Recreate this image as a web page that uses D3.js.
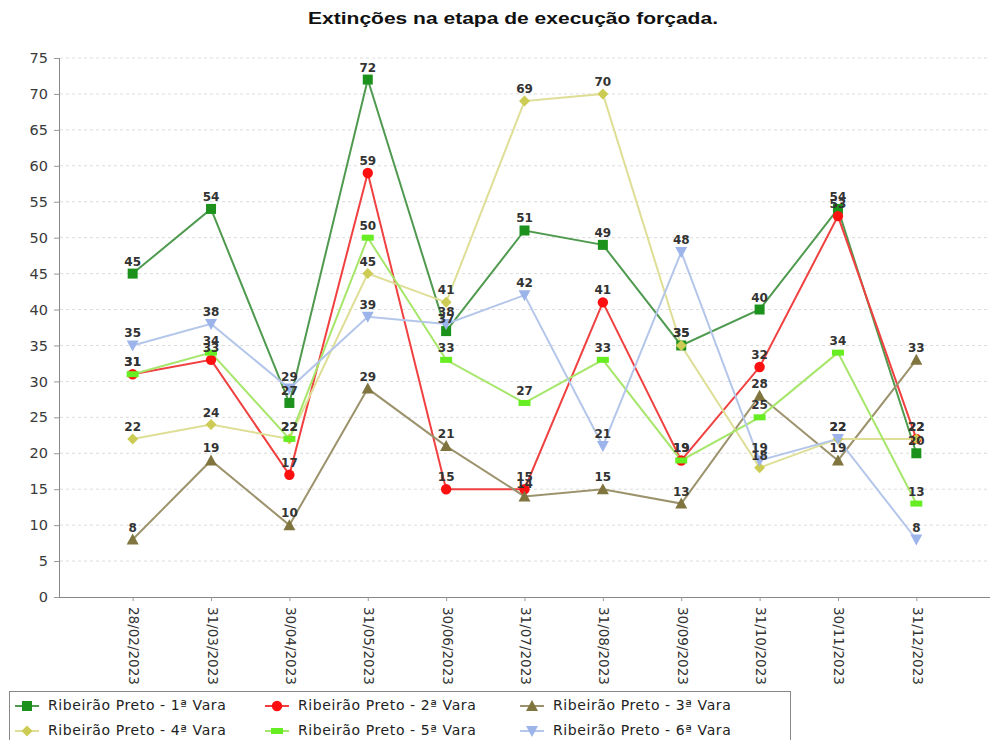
<!DOCTYPE html>
<html><head><meta charset="utf-8">
<script src="https://cdn.jsdelivr.net/npm/d3@7/dist/d3.min.js"></script>
<style>body{margin:0;background:#fff}svg{display:block}</style>
</head><body>
<script>
const categories = ["28/02/2023","31/03/2023","30/04/2023","31/05/2023","30/06/2023","31/07/2023","31/08/2023","30/09/2023","31/10/2023","30/11/2023","31/12/2023"];
const seriesNames = ["Ribeirão Preto - 1ª Vara","Ribeirão Preto - 2ª Vara","Ribeirão Preto - 3ª Vara","Ribeirão Preto - 4ª Vara","Ribeirão Preto - 5ª Vara","Ribeirão Preto - 6ª Vara"];
const vara1 = [45,54,27,72,37,51,49,35,40,54,20];
const vara2 = [31,33,17,59,15,15,41,19,32,53,22];
const vara3 = [8,19,10,29,21,14,15,13,28,19,33];
const vara4 = [22,24,22,45,41,69,70,35,18,22,22];
const vara5 = [31,34,22,50,33,27,33,19,25,34,13];
const vara6 = [35,38,29,39,38,42,21,48,19,22,8];
const yTicks = [0,5,10,15,20,25,30,35,40,45,50,55,60,65,70,75];
const title = "Extinções na etapa de execução forçada.";

const seriesValues = [vara1,vara2,vara3,vara4,vara5,vara6];
const styles = [
  {line:"#4f9a4f", fill:"#1c921c", shape:"square"},
  {line:"#f04040", fill:"#ff1010", shape:"circle"},
  {line:"#9c926c", fill:"#80743f", shape:"tri-up"},
  {line:"#dede96", fill:"#cccc55", shape:"diamond"},
  {line:"#a6e66a", fill:"#66ee22", shape:"bar"},
  {line:"#b4c6ea", fill:"#9db4ea", shape:"tri-down"}
];

const W=993,H=740;
const svg=d3.select("body").append("svg").attr("width",W).attr("height",H);
const x=d3.scalePoint().domain(categories).range([59,990]).padding(0.94);
const y=d3.scaleLinear().domain([0,75]).range([597,58]);

svg.append("text").attr("x",513).attr("y",24).attr("text-anchor","middle")
  .attr("font-family","Liberation Sans, Arial, sans-serif").attr("font-weight","bold")
  .attr("font-size",17).attr("fill","#111")
  .attr("textLength",410).attr("lengthAdjust","spacingAndGlyphs").text(title);

// grid
svg.append("g").selectAll("line").data(yTicks.filter(d=>d>0)).join("line")
  .attr("x1",60).attr("x2",990).attr("y1",d=>y(d)).attr("y2",d=>y(d))
  .attr("stroke","#dcdcdc").attr("stroke-dasharray","3,3").attr("stroke-width",1);

// y axis
const ya=svg.append("g").attr("transform","translate(59,0)")
  .call(d3.axisLeft(y).tickValues(yTicks).tickSize(5).tickPadding(6));
ya.select(".domain").attr("stroke","#888").attr("d","M0.5,597V58");
ya.selectAll(".tick line").attr("stroke","#999");
ya.selectAll("text").attr("font-family","DejaVu Sans, Verdana, sans-serif").attr("font-size",14.5).attr("fill","#3a3a3a");

// x axis
const xa=svg.append("g").attr("transform","translate(0,597)")
  .call(d3.axisBottom(x).tickSize(4).tickSizeOuter(0));
xa.select(".domain").attr("stroke","#888").attr("d","M59,0.5H990");
xa.selectAll(".tick line").attr("stroke","#999");
xa.selectAll("text").attr("font-family","DejaVu Sans, Verdana, sans-serif").attr("font-size",13.5)
  .attr("fill","#333").attr("text-anchor","start").attr("dy",null)
  .attr("transform","translate(0,10) rotate(90)").attr("dominant-baseline","middle").attr("x",0).attr("y",0);

function markerPath(shape){
  switch(shape){
    case "square": return "M-5,-5H5V5H-5Z";
    case "circle": return d3.symbol(d3.symbolCircle,85)();
    case "tri-up": return "M0,-6L6,5H-6Z";
    case "tri-down": return "M0,6L6,-5H-6Z";
    case "diamond": return "M0,-5.5L5.5,0L0,5.5L-5.5,0Z";
    case "bar": return "M-6,-3H6V3H-6Z";
  }
}

const line=d3.line().x((d,i)=>x(categories[i])).y(d=>y(d));
seriesValues.forEach((vals,s)=>{
  const st=styles[s];
  svg.append("path").datum(vals).attr("d",line).attr("fill","none")
    .attr("stroke",st.line).attr("stroke-width",2);
});
seriesValues.forEach((vals,s)=>{
  const st=styles[s];
  svg.append("g").selectAll("path").data(vals).join("path")
    .attr("d",markerPath(st.shape))
    .attr("transform",(d,i)=>`translate(${x(categories[i])},${y(d)})`)
    .attr("fill",st.fill);
});
seriesValues.forEach((vals,s)=>{
  svg.append("g").selectAll("text").data(vals).join("text")
    .attr("x",(d,i)=>x(categories[i])).attr("y",d=>y(d)-8)
    .attr("text-anchor","middle").attr("font-family","DejaVu Sans, Verdana, sans-serif")
    .attr("font-weight","bold").attr("font-size",12).attr("fill","#333").text(d=>d);
});

// legend
const lg=svg.append("g");
lg.append("rect").attr("x",9.5).attr("y",691.5).attr("width",781).attr("height",60)
  .attr("fill","#fff").attr("stroke","#888");
const colX=[7,257,512], rowY=[706,731];
seriesNames.forEach((n,s)=>{
  const st=styles[s];
  const gx=colX[s%3], gy=rowY[Math.floor(s/3)];
  const g=lg.append("g").attr("transform",`translate(${gx},${gy})`);
  g.append("line").attr("x1",8).attr("x2",32).attr("y1",0).attr("y2",0).attr("stroke",st.line).attr("stroke-width",2);
  g.append("path").attr("d",markerPath(st.shape)).attr("transform","translate(20,0)").attr("fill",st.fill);
  g.append("text").attr("x",41).attr("y",0).attr("dominant-baseline","middle")
    .attr("font-family","DejaVu Sans, Verdana, sans-serif").attr("font-size",14).attr("letter-spacing",0.6)
    .attr("fill","#222").text(n);
});
</script>
</body></html>
